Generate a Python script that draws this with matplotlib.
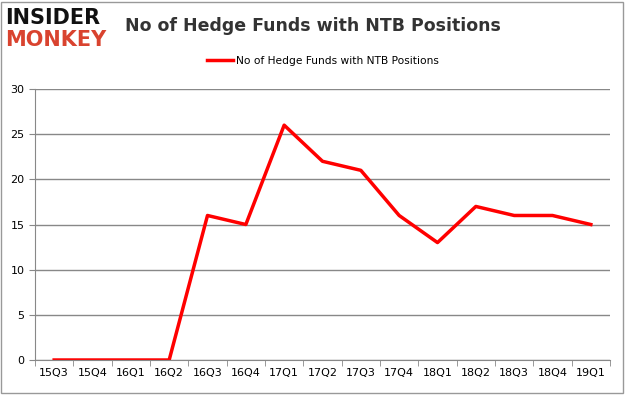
import matplotlib.pyplot as plt
from matplotlib.patches import Rectangle

quarters = ['15Q3', '15Q4', '16Q1', '16Q2', '16Q3', '16Q4', '17Q1', '17Q2',
            '17Q3', '17Q4', '18Q1', '18Q2', '18Q3', '18Q4', '19Q1']
funds = [0, 0, 0, 0, 16, 15, 26, 22, 21, 16, 13, 17, 16, 16, 15]
series_name = 'No of Hedge Funds with NTB Positions'

fig = plt.figure(figsize=(6.25, 3.95), dpi=100)
ax = fig.add_axes([0.056, 0.0886, 0.92, 0.686])

x = list(range(len(quarters)))
ax.plot(x, funds, color='#ff0000', lw=2.5, label=series_name)

ax.set_xlim(-0.5, len(quarters) - 0.5)
ax.set_ylim(0, 30)
ax.set_yticks(range(0, 31, 5))
ax.set_xticks(x)
ax.set_xticklabels(quarters, fontsize=8)
ax.set_xticks([i - 0.5 for i in range(len(quarters) + 1)], minor=True)
ax.tick_params(axis='x', which='major', length=0, pad=6)
ax.tick_params(axis='x', which='minor', length=4, color='#888888')
ax.tick_params(axis='y', length=4, color='#888888', labelsize=8)
ax.grid(axis='y', color='#888888', lw=1)
ax.set_axisbelow(True)
for s in ['top', 'right']:
    ax.spines[s].set_visible(False)
for s in ['left', 'bottom']:
    ax.spines[s].set_color('#888888')

ax.legend(loc='center', bbox_to_anchor=(0.5, 1.103), frameon=False,
          fontsize=7.7, handlelength=2.5, handletextpad=0.2)

fig.text(0.5, 0.935, 'No of Hedge Funds with NTB Positions', ha='center',
         va='center', fontsize=12.5, fontweight='bold', color='#333333')
fig.text(0.008, 0.955, 'INSIDER', ha='left', va='center', fontsize=15,
         fontweight='black', color='#111111')
fig.text(0.008, 0.9, 'MONKEY', ha='left', va='center', fontsize=15,
         fontweight='black', color='#d9432f')

fig.patches.append(Rectangle((0.002, 0.005), 0.994, 0.99, transform=fig.transFigure,
                             fill=False, edgecolor='#999999', lw=1))

fig.savefig('out.png', dpi=100)
